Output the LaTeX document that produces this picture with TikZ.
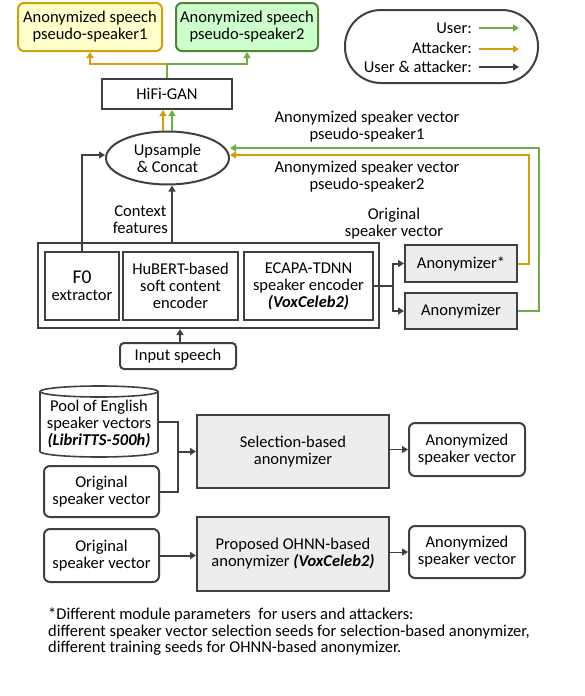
\documentclass[tikz,border=0pt]{standalone}
\usepackage{fontspec}
\setmainfont{Carlito}
\usetikzlibrary{arrows.meta,shapes.geometric,calc}
\definecolor{dk}{RGB}{64,64,64}
\definecolor{gold}{RGB}{212,160,10}
\definecolor{grn}{RGB}{112,173,71}
\definecolor{dgrn}{RGB}{84,130,53}
\definecolor{yfill}{RGB}{255,255,204}
\definecolor{gfill}{RGB}{204,255,204}
\definecolor{gray1}{RGB}{237,237,237}
\begin{document}
\begin{tikzpicture}[x=1pt,y=-1pt,
  font=\fontsize{16.5}{17}\selectfont,
  tip/.style={-{Triangle[length=6pt,width=7pt]}},
  box/.style={draw=dk, line width=2pt, align=center, inner sep=0pt},
  rbox/.style={box, rounded corners=6pt},
  gbox/.style={box, fill=gray1},
  txt/.style={align=center, inner sep=0pt},
  dline/.style={draw=dk, line width=2pt},
  darr/.style={dline, tip},
  yarr/.style={draw=gold, line width=2pt, tip},
  garr/.style={draw=grn, line width=2pt, tip},
  tarr/.style={draw=dk, line width=0.9pt, tip}]
\useasboundingbox (0,0) rectangle (584,696);

% top outputs
\node[box, draw=gold, fill=yfill, rounded corners=6pt, minimum width=144pt, minimum height=48pt] (sp1) at (90,27) {Anonymized speech\\pseudo-speaker1};
\node[box, draw=dgrn, fill=gfill, rounded corners=6pt, minimum width=142pt, minimum height=48pt] (sp2) at (247,27) {Anonymized speech\\pseudo-speaker2};
\node[box, minimum width=130pt, minimum height=30pt] (hifi) at (167,94) {HiFi-GAN};
\node[box, ellipse, minimum width=123pt, minimum height=53pt] (ups) at (167.5,158) {Upsample\\\& Concat};

% legend
\node[draw=dk, line width=2pt, rounded corners=36pt, minimum width=193pt, minimum height=73pt] (leg) at (441.5,46.5) {};
\node[txt, anchor=east] (lu) at (472,28) {User:};
\node[txt, anchor=east] (la) at (472,48) {Attacker:};
\node[txt, anchor=east] (lb) at (472,67) {User \& attacker:};
\draw[garr] ($(lu.east)+(7,0)$) -- ++(40,0);
\draw[yarr] ($(la.east)+(7,1)$) -- ++(40,0);
\draw[darr] ($(lb.east)+(7,0)$) -- ++(40,0);

% labels
\node[txt] (lab1) at (367,126.5) {Anonymized speaker vector\\pseudo-speaker1};
\node[txt] (lab2) at (367,177) {Anonymized speaker vector\\pseudo-speaker2};
\node[txt, anchor=east] (ctxl) at (168,220) {Context\\features};
\node[txt] (origl) at (394,223.5) {Original\\speaker vector};

% encoder block
\node[box, minimum width=341pt, minimum height=85pt] (outer) at (208.5,285.5) {};
\node[box, minimum width=74pt, minimum height=68pt] (f0) at (82,286) {{\fontsize{19.5}{19}\selectfont F0}\\extractor};
\node[box, minimum width=115pt, minimum height=68pt] (hub) at (180.5,286) {HuBERT-based\\soft content\\encoder};
\node[box, minimum width=129pt, minimum height=68pt] (ecapa) at (308.5,286) {ECAPA-TDNN\\speaker encoder\\\textbf{\textit{(VoxCeleb2)}}};
\node[box, rounded corners=4pt, minimum width=116pt, minimum height=26pt] (inp) at (178,356) {Input speech};
\node[gbox, minimum width=112pt, minimum height=37pt] (anA) at (461,263.5) {Anonymizer*};
\node[gbox, minimum width=112pt, minimum height=36pt] (anB) at (461,311) {Anonymizer};

% connectors top part
\coordinate (hj) at ($(hifi.north)+(0,-14)$);
\draw[yarr] (hifi.north) -- (hj) -| (sp1.south);
\draw[garr] (hifi.north) -- (hj) -| (sp2.south);
\coordinate (uy) at ($(hifi.south)+(-4,0)$);
\coordinate (ug) at ($(hifi.south)+(5,0)$);
\draw[yarr] (ups.north -| uy) -- (uy);
\draw[garr] (ups.north -| ug) -- (ug);
\draw[darr] (f0.north) |- ($(ups.west)+(0,-3)$);
\coordinate (cu) at ($(ups.south)+(4.5,0)$);
\draw[darr] (outer.north -| cu) -- (cu);
\draw[darr] ($(inp.north)+(2,0)$) -- ($(inp.north |- outer.south)+(2,0)$);
\coordinate (br) at ($(ecapa.east)+(19,0)$);
\draw[dline] (ecapa.east) -- (br);
\draw[darr] (br) |- (anA.west);
\draw[darr] (br) |- (anB.west);
\draw[yarr] (anA.east) -- ++(11,0) |- ($(ups.east)+(0,-3)$);
\draw[garr] (anB.east) -- ++(21,0) |- ($(ups.east)+(0,-10)$);

% bottom part
\draw[draw=dk, line width=1.6pt, fill=white] (40,391.5) -- (40,451.5) arc[start angle=180, end angle=360, x radius=59pt, y radius=5.5pt] -- (158,391.5);
\draw[draw=dk, line width=1.6pt, fill=white] (99,391.5) ellipse [x radius=59pt, y radius=5.5pt];
\node[txt, minimum width=118pt, minimum height=71pt] (pool) at (99,424.5) {Pool of English\\speaker vectors\\\textbf{\textit{(LibriTTS-500h)}}};
\node[rbox, minimum width=115pt, minimum height=51pt] (o1) at (101.5,491.5) {Original\\speaker vector};
\node[gbox, minimum width=192pt, minimum height=73pt] (sel) at (293,451.5) {Selection-based\\anonymizer};
\node[rbox, minimum width=116pt, minimum height=53pt] (av1) at (467,449.5) {Anonymized\\speaker vector};
\node[rbox, minimum width=115pt, minimum height=53pt] (o2) at (101.5,555.5) {Original\\speaker vector};
\node[gbox, minimum width=192pt, minimum height=74pt] (oh) at (293,554) {Proposed OHNN-based\\anonymizer \textbf{\textit{(VoxCeleb2)}}};
\node[rbox, minimum width=116pt, minimum height=52pt] (av2) at (467,552) {Anonymized\\speaker vector};

\coordinate (j1) at ($(pool.east)+(20,-2.5)$);
\draw[dline] ($(pool.east)+(0,-2.5)$) -- (j1) |- (o1.east);
\draw[darr] (j1 |- sel.west) -- (sel.west);
\draw[tarr] (sel.east |- av1.west) -- (av1.west);
\draw[darr] (o2.east) -- (o2.east -| oh.west);
\draw[tarr] (oh.east |- av2.west) -- (av2.west);

% footnote
\node[anchor=west, align=left, inner sep=0pt, font=\fontsize{16.5}{16.5}\selectfont] (note) at (48,632) {*Different module parameters~ for users and attackers:\\different speaker vector selection seeds for selection-based anonymizer,\\different training seeds for OHNN-based anonymizer.};
\end{tikzpicture}
\end{document}
